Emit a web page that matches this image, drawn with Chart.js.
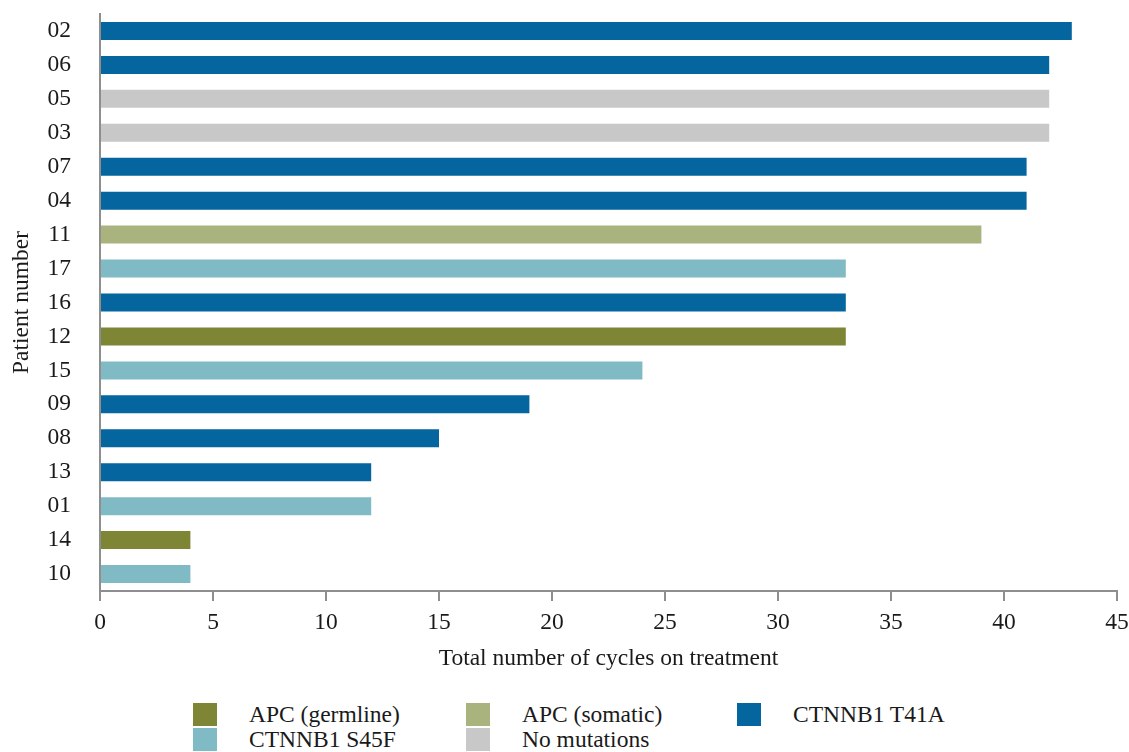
<!DOCTYPE html>
<html>
<head>
<meta charset="utf-8">
<script src="https://cdn.jsdelivr.net/npm/chart.js@4.4.1/dist/chart.umd.min.js"></script>
<style>
  body { margin: 0; background: #fff; }
  #wrap { position: relative; width: 1129px; height: 752px; overflow: hidden; }
  #box { position: absolute; left: 0; top: 0; width: 1129px; height: 677px; }
  .leg { position: absolute; font-family: "Liberation Serif", "Times New Roman", serif; font-size: 23.5px; color: #1a1a1a; }
  .leg span.sw { position: absolute; width: 24px; height: 23px; left: 0; top: 0; }
  .leg span.tx { position: absolute; left: 56px; top: -2px; white-space: nowrap; line-height: 26px; }
</style>
</head>
<body>
<div id="wrap">
  <div id="box"><canvas id="myChart"></canvas></div>
  <div id="legend"></div>
</div>
<script>
// patients top to bottom
var patients = ['02','06','05','03','07','04','11','17','16','12','15','09','08','13','01','14','10'];
var cycles   = [43, 42, 42, 42, 41, 41, 39, 33, 33, 33, 24, 19, 15, 12, 12, 4, 4];
var mutation = ['T41A','T41A','none','none','T41A','T41A','somatic','S45F','T41A','germline',
                'S45F','T41A','T41A','T41A','S45F','germline','S45F'];

var mutationKeys   = ['germline', 'somatic', 'T41A', 'S45F', 'none'];
var mutationNames  = ['APC (germline)', 'APC (somatic)', 'CTNNB1 T41A', 'CTNNB1 S45F', 'No mutations'];
var mutationColors = ['#7e8636', '#a9b37e', '#05659f', '#80bac5', '#c8c8c8'];

var serif = '"Liberation Serif", "Times New Roman", serif';
var axisGrey = '#8e8e8e';
var fontSize = 23.5;

function colorOf(m) { return mutationColors[mutationKeys.indexOf(m)]; }

var config = {
  type: 'bar',
  data: {
    labels: patients,
    datasets: [{
      label: 'Cycles',
      data: cycles,
      backgroundColor: mutation.map(colorOf),
      borderWidth: 0,
      barPercentage: 0.53,
      categoryPercentage: 1
    }]
  },
  options: {
    indexAxis: 'y',
    responsive: true,
    maintainAspectRatio: false,
    animation: false,
    layout: { padding: { top: 14, right: 12, left: 0, bottom: 0 } },
    plugins: { legend: { display: false }, tooltip: { enabled: false } },
    scales: {
      x: {
        min: 0, max: 45,
        ticks: { stepSize: 5, color: '#1a1a1a', padding: 8, font: { family: serif, size: fontSize } },
        grid: { display: true, drawOnChartArea: false, drawTicks: true, tickLength: 10, color: axisGrey, lineWidth: 2 },
        border: { display: true, color: axisGrey, width: 2 },
        title: { display: true, text: 'Total number of cycles on treatment', color: '#1a1a1a',
                 font: { family: serif, size: fontSize }, padding: { top: 4, bottom: 4 } },
        afterFit: function (s) { s.height = 86; s.paddingLeft = 0; s.paddingRight = 0; }
      },
      y: {
        ticks: { color: '#1a1a1a', padding: 29, font: { family: serif, size: fontSize } },
        grid: { display: false, drawTicks: false },
        border: { display: true, color: axisGrey, width: 2 },
        title: { display: true, text: 'Patient number', color: '#1a1a1a',
                 font: { family: serif, size: fontSize }, padding: { top: 8, bottom: 0 } },
        afterFit: function (s) { s.width = 100; s.paddingTop = 0; s.paddingBottom = 0; }
      }
    }
  }
};

new Chart(document.getElementById('myChart'), config);

// legend laid out as in the figure: 3 columns, 2 rows
var legendCols = [193, 466, 737];
var legendRows = [703, 728];
var legend = document.getElementById('legend');
for (var i = 0; i < mutationKeys.length; i++) {
  var d = document.createElement('div');
  d.className = 'leg';
  d.style.left = legendCols[i % 3] + 'px';
  d.style.top = legendRows[Math.floor(i / 3)] + 'px';
  d.innerHTML = '<span class="sw" style="background:' + mutationColors[i] + '"></span><span class="tx">' + mutationNames[i] + '</span>';
  legend.appendChild(d);
}
</script>
</body>
</html>
